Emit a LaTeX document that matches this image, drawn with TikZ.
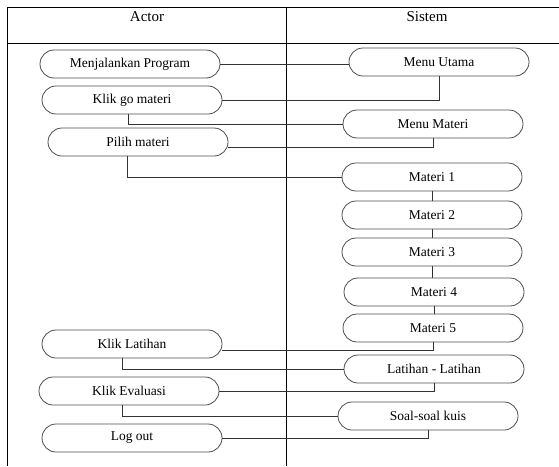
\documentclass[tikz,border=0pt]{standalone}
\usepackage{fontspec}
\setmainfont{Liberation Serif}
\usetikzlibrary{positioning, calc}

\begin{document}
\begin{tikzpicture}[x=1pt, y=-1pt,
                term/.style={draw=black!70, line width=0.8pt, rectangle, rounded corners=14pt, minimum width=180pt, minimum height=28pt, inner sep=0pt, font=\fontsize{13.5}{15}\selectfont},
                link/.style={draw=black!80, line width=0.9pt},
                grid/.style={draw=black, line width=0.9pt},
                head/.style={font=\fontsize{15}{17}\selectfont}
            ]
            \useasboundingbox (0,0) rectangle (559,466);

            % Tabelle
            \draw[grid] (559,7.5) -- (7.5,7.5) -- (7.5,466);
            \draw[grid] (7.5,43) -- (559,43);
            \draw[grid] (286.5,7.5) -- (286.5,466);
            \node[head] (actor) at (147,17) {Actor};
            \node[head] (sistem) at (427,17) {Sistem};

            % Knoten Actor
            \node[term] (run) at (130,64) {Menjalankan Program};
            \node[term] (kgm) at (132,100) {Klik go materi};
            \node[term] (pm) at (138,142) {Pilih materi};
            \node[term] (kl) at (132,344) {Klik Latihan};
            \node[term] (ke) at (129,391) {Klik Evaluasi};
            \node[term] (lo) at (132,438) {Log out};

            % Knoten Sistem
            \node[term] (mu) at (439,62) {Menu Utama};
            \node[term] (mm) at (433,124) {Menu Materi};
            \node[term] (m1) at (432,177) {Materi 1};
            \node[term] (m2) at (432,215) {Materi 2};
            \node[term] (m3) at (432,252) {Materi 3};
            \node[term] (m4) at (434,292) {Materi 4};
            \node[term] (m5) at (433,328) {Materi 5};
            \node[term] (ll) at (434,369) {Latihan - Latihan};
            \node[term] (sk) at (428,416) {Soal-soal kuis};

            % Kanten
            \draw[link] (run.east) -- (run.east -| mu.west);
            \draw[link] (mu.south) |- (kgm.east);
            \draw[link] ([xshift=-4pt]kgm.south) |- (mm.west);
            \draw[link] (mm.south) |- ([yshift=-5pt]pm.east);
            \draw[link] ([xshift=-11pt]pm.south) |- (m1.west);
            \foreach \a/\b in {m1/m2, m2/m3, m3/m4, m4/m5}
                \draw[link] (\a.south) -- (\a.south |- \b.north);
            \draw[link] (m5.south) |- ([yshift=-6pt]kl.east);
            \draw[link] ([xshift=-10pt]kl.south) |- (ll.west);
            \draw[link] (ll.south) |- (ke.east);
            \draw[link] ([xshift=-7pt]ke.south) |- (sk.west);
            \draw[link] (sk.south) |- (lo.east);

        \end{tikzpicture}
\end{document}
